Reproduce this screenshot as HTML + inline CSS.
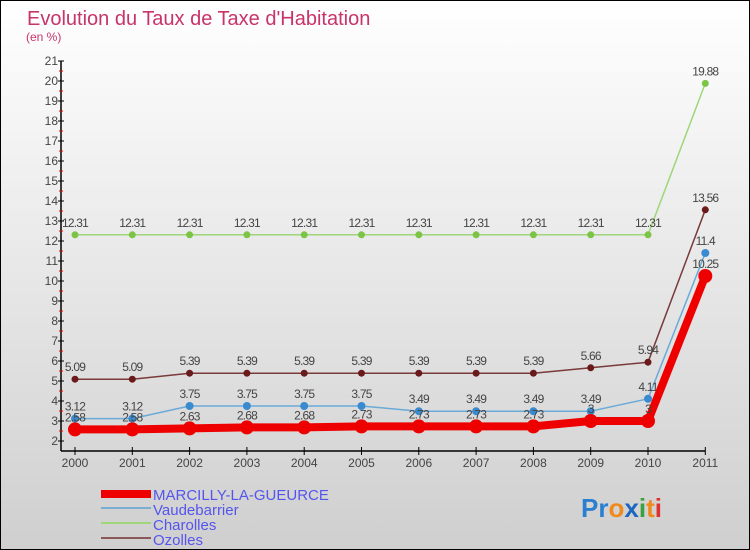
<!DOCTYPE html>
<html><head><meta charset="utf-8"><style>
body{margin:0}
#c{width:750px;height:550px;position:relative;box-sizing:border-box;border:1px solid #000;background:linear-gradient(#ffffff,#cfcfcf);font-family:"Liberation Sans",sans-serif;overflow:hidden}
</style></head><body>
<div id="c">
<svg id="s" width="748" height="548" xmlns="http://www.w3.org/2000/svg">
<text x="26" y="24" font-size="20" fill="#c8336a">Evolution du Taux de Taxe d'Habitation</text>
<text x="25" y="40" font-size="12" fill="#c8336a">(en %)</text>
<g id="axes"></g><g id="marks"></g>
<g>
<rect x="100" y="489" width="50" height="8" fill="#e00"/>
<text x="152" y="499" font-size="15" fill="#5555ee">MARCILLY-LA-GUEURCE</text>
<line x1="100" y1="507" x2="150" y2="507" stroke="#7aaed0" stroke-width="2"/>
<text x="152" y="514" font-size="15" fill="#5555ee">Vaudebarrier</text>
<line x1="100" y1="522" x2="150" y2="522" stroke="#9fd67a" stroke-width="2"/>
<text x="152" y="529" font-size="15" fill="#5555ee">Charolles</text>
<line x1="100" y1="537" x2="150" y2="537" stroke="#8a5a5a" stroke-width="2"/>
<text x="152" y="544" font-size="15" fill="#5555ee">Ozolles</text>
</g>
<text x="580" y="516" font-size="26" font-weight="bold"><tspan fill="#2a7fd0">Pr</tspan><tspan fill="#f08a1c">o</tspan><tspan fill="#1a66c0">x</tspan><tspan fill="#3aa040">i</tspan><tspan fill="#f08a1c">t</tspan><tspan fill="#e03030">i</tspan></text>
</svg></div>
<script>
const years=["2000","2001","2002","2003","2004","2005","2006","2007","2008","2009","2010","2011"];
const marcilly=[2.58,2.58,2.63,2.68,2.68,2.73,2.73,2.73,2.73,3,3,10.25];
const vaudebarrier=[3.12,3.12,3.75,3.75,3.75,3.75,3.49,3.49,3.49,3.49,4.11,11.4];
const charolles=[12.31,12.31,12.31,12.31,12.31,12.31,12.31,12.31,12.31,12.31,12.31,19.88];
const ozolles=[5.09,5.09,5.39,5.39,5.39,5.39,5.39,5.39,5.39,5.66,5.94,13.56];
const yTicks=[2,3,4,5,6,7,8,9,10,11,12,13,14,15,16,17,18,19,20,21];
const NS="http://www.w3.org/2000/svg";
const X=i=>74+i*57.3, Y=v=>440-(v-2)*20;
function mk(tag,at,parent,txt){const e=document.createElementNS(NS,tag);for(const k in at)e.setAttribute(k,at[k]);if(txt!==undefined)e.textContent=txt;parent.appendChild(e);return e;}
const ax=document.getElementById('axes'),mg=document.getElementById('marks');
let yl=mk('line',{x1:60,y1:Y(21),x2:60,y2:450,stroke:'#000','stroke-width':1.5},ax);


let xl=mk('line',{x1:60,y1:450,x2:X(11),y2:450,stroke:'#000','stroke-width':1.5},ax);


yTicks.forEach(v=>{
  mk('line',{x1:57,y1:Y(v),x2:63,y2:Y(v),stroke:'#000'},ax);
  if(v<21)mk('line',{x1:58,y1:Y(v+0.5),x2:62,y2:Y(v+0.5),stroke:'#e00'},ax);
  const t=mk('text',{x:57,y:Y(v)+4,'font-size':12,fill:'#444','text-anchor':'end'},ax,String(v));
  
  
});
years.forEach((y,i)=>{
  mk('line',{x1:X(i),y1:446,x2:X(i),y2:454,stroke:'#000'},ax);
  const t=mk('text',{x:X(i),y:466,'font-size':12,fill:'#444','text-anchor':'middle'},ax,y);
  
  
});
function series(name,data,color,lw,r,dot,labelDy){
  const g=mk('g',{},mg);
  
  
  const p=mk('polyline',{points:data.map((v,i)=>X(i)+','+Y(v)).join(' '),fill:'none',stroke:color,'stroke-width':lw,'stroke-linejoin':'round'},g);
  
  
  data.forEach((v,i)=>{
    const c=mk('circle',{cx:X(i),cy:Y(v),r:r,fill:dot},g);
    
    
    const t=mk('text',{x:X(i),y:Y(v)+labelDy,'font-size':12,fill:'#444','text-anchor':'middle','letter-spacing':'-0.8'},g,String(v));
    
    
  });
}
series('charolles',charolles,'#9fd67a',1.5,3.5,'#7cc544',-8);
series('ozolles',ozolles,'#7a3a3a',1.5,3.5,'#6a1a1a',-8);
series('vaudebarrier',vaudebarrier,'#6aaad8',1.5,4,'#3a8ad0',-8);
series('marcilly',marcilly,'#ee0000',8,7,'#ee0000',-8);
</script>
</body></html>
